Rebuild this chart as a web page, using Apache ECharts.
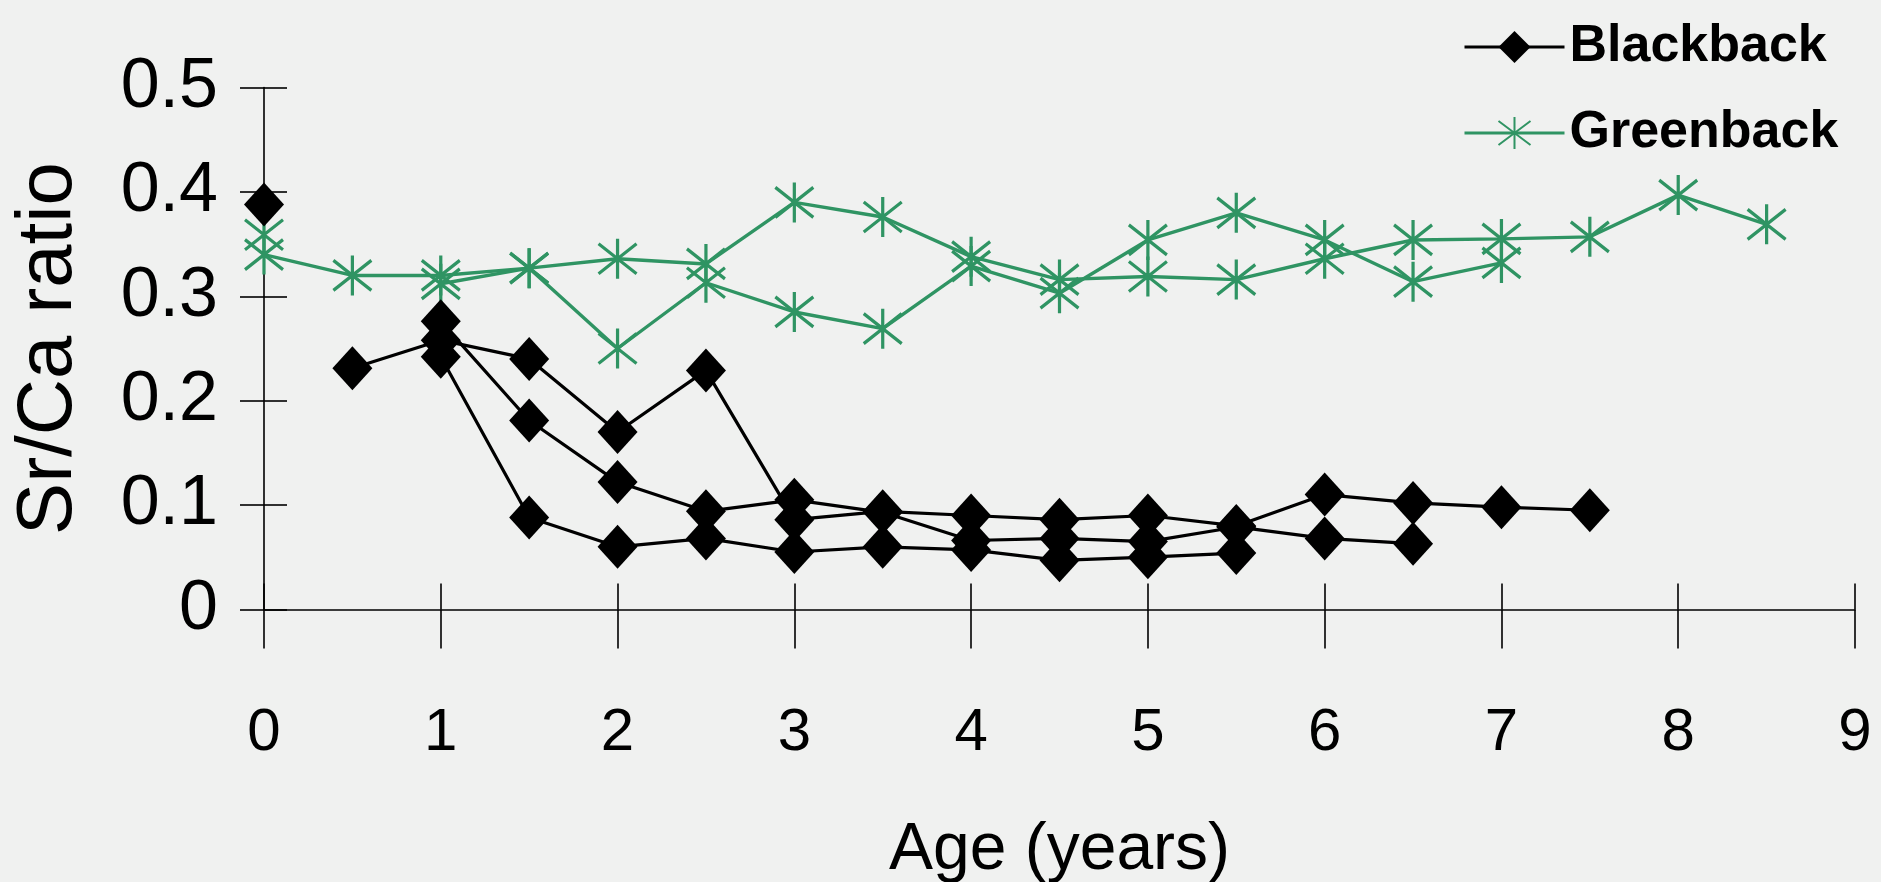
<!DOCTYPE html>
<html>
<head>
<meta charset="utf-8">
<script src="https://cdn.jsdelivr.net/npm/echarts/dist/echarts.min.js"></script>
<style>
html,body{margin:0;padding:0;background:#f0f1f0;}
#c{width:1881px;height:882px;}
</style>
</head>
<body>
<div id="c"></div>
<script>
// ---- data (age in years, Sr/Ca ratio) ----
const xTickValues = [0, 1, 2, 3, 4, 5, 6, 7, 8, 9];
const yTickValues = [0, 0.1, 0.2, 0.3, 0.4, 0.5];

const blackAgesA = [0.5, 1, 1.5, 2, 2.5, 3, 3.5, 4, 4.5, 5, 5.5, 6, 6.5, 7, 7.5];
const blackA     = [0.231, 0.258, 0.240, 0.170, 0.229, 0.086, 0.094, 0.090, 0.086, 0.090, 0.080, 0.110, 0.102, 0.098, 0.095];
const blackAgesB = [1, 1.5, 2, 2.5, 3, 3.5, 4, 4.5, 5, 5.5, 6, 6.5];
const blackB     = [0.276, 0.181, 0.122, 0.094, 0.105, 0.093, 0.066, 0.068, 0.065, 0.079, 0.068, 0.063];
const blackAgesC = [1, 1.5, 2, 2.5, 3, 3.5, 4, 4.5, 5, 5.5];
const blackC     = [0.242, 0.088, 0.060, 0.068, 0.055, 0.060, 0.057, 0.047, 0.050, 0.054];
const blackAgesD = [0];
const blackD     = [0.388];

const greenAgesA = [0, 0.5, 1, 1.5, 2, 2.5, 3, 3.5, 4, 4.5, 5, 5.5, 6, 6.5, 7, 7.5, 8, 8.5];
const greenA     = [0.340, 0.320, 0.320, 0.327, 0.336, 0.331, 0.390, 0.376, 0.338, 0.316, 0.319, 0.316, 0.336, 0.354, 0.355, 0.357, 0.397, 0.369];
const greenAgesB = [1, 1.5, 2, 2.5, 3, 3.5, 4, 4.5, 5, 5.5, 6, 6.5, 7];
const greenB     = [0.312, 0.327, 0.250, 0.313, 0.285, 0.269, 0.329, 0.303, 0.354, 0.380, 0.354, 0.314, 0.332];
const greenAgesC = [0];
const greenC     = [0.359];

// ---- styling ----
const FONT = 'Liberation Sans, Arial, sans-serif';
const BLACK = '#000000';
const GREEN = '#2f9463';
const STAR = 'path://M10,0L10,20M1,2.5L19,17.5M19,2.5L1,17.5';

function pairs(ages, vals) { return ages.map((a, i) => [a, vals[i]]); }

function blackSeries(ages, vals) {
  return {
    name: 'Blackback', type: 'line', data: pairs(ages, vals),
    symbol: 'diamond', symbolSize: [40, 44],
    itemStyle: { color: BLACK },
    lineStyle: { color: BLACK, width: 3.2 },
    emphasis: { disabled: true }, z: 3
  };
}
function greenSeries(ages, vals) {
  return {
    name: 'Greenback', type: 'line', data: pairs(ages, vals),
    symbol: STAR, symbolSize: [38, 40],
    itemStyle: { color: GREEN, borderColor: GREEN, borderWidth: 3.3 },
    lineStyle: { color: GREEN, width: 3.4 },
    emphasis: { disabled: true }, z: 2
  };
}

const axisLineStyle = { color: BLACK, width: 1.6 };

const chart = echarts.init(document.getElementById('c'));
chart.setOption({
  animation: false,
  backgroundColor: '#f0f1f0',
  grid: { left: 264, right: 26, top: 87.6, bottom: 272.6, containLabel: false, outerBoundsMode: 'none' },
  legend: {
    orient: 'vertical', left: 1458, top: 16,
    itemWidth: 100, itemHeight: 40, itemGap: 34,
    data: ['Blackback', 'Greenback'],
    lineStyle: { width: 3 },
    textStyle: { fontFamily: FONT, fontSize: 52, fontWeight: 'bold', color: BLACK },
    selectedMode: false
  },
  xAxis: [
    {
      type: 'value', min: xTickValues[0], max: xTickValues[xTickValues.length - 1], interval: 1,
      position: 'bottom',
      axisLine: { show: true, onZero: false, lineStyle: axisLineStyle },
      axisTick: { show: true, inside: false, length: 39, lineStyle: axisLineStyle },
      axisLabel: { margin: 94, fontSize: 60, color: BLACK, fontFamily: FONT },
      splitLine: { show: false },
      name: 'Age (years)', nameLocation: 'middle', nameGap: 208,
      nameTextStyle: { fontSize: 66, color: BLACK, fontFamily: FONT }
    },
    {
      type: 'value', min: xTickValues[0], max: xTickValues[xTickValues.length - 1], interval: 1,
      position: 'bottom',
      axisLine: { show: false },
      axisTick: { show: true, inside: true, length: 26, lineStyle: axisLineStyle },
      axisLabel: { show: false },
      splitLine: { show: false }
    }
  ],
  yAxis: [
    {
      type: 'value', min: yTickValues[0], max: yTickValues[yTickValues.length - 1], interval: 0.1,
      position: 'left',
      axisLine: { show: true, onZero: false, lineStyle: axisLineStyle },
      axisTick: { show: true, inside: false, length: 24, lineStyle: axisLineStyle },
      axisLabel: { margin: 46, fontSize: 70, color: BLACK, fontFamily: FONT },
      splitLine: { show: false },
      name: 'Sr/Ca ratio', nameLocation: 'middle', nameGap: 176,
      nameTextStyle: { fontSize: 78, color: BLACK, fontFamily: FONT }
    },
    {
      type: 'value', min: yTickValues[0], max: yTickValues[yTickValues.length - 1], interval: 0.1,
      position: 'left',
      axisLine: { show: false },
      axisTick: { show: true, inside: true, length: 23, lineStyle: axisLineStyle },
      axisLabel: { show: false },
      splitLine: { show: false }
    }
  ],
  series: [
    blackSeries(blackAgesA, blackA),
    blackSeries(blackAgesB, blackB),
    blackSeries(blackAgesC, blackC),
    blackSeries(blackAgesD, blackD),
    greenSeries(greenAgesA, greenA),
    greenSeries(greenAgesB, greenB),
    greenSeries(greenAgesC, greenC)
  ]
});
</script>
</body>
</html>
